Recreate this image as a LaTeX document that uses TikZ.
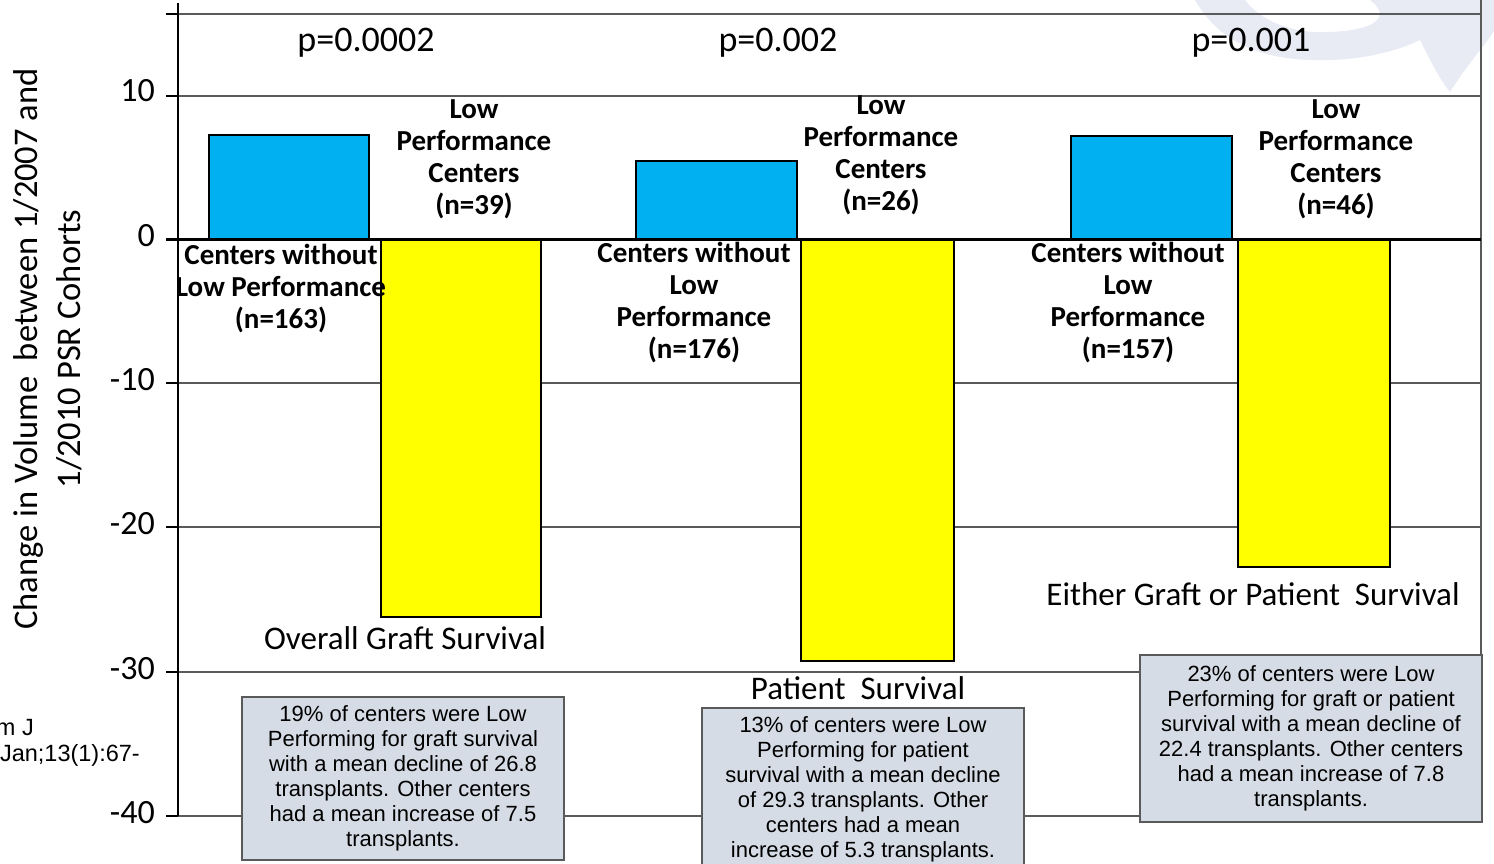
\documentclass[tikz,border=0pt]{standalone}
\usepackage{fontspec}
\setmainfont{Carlito}
\newfontfamily\arialfont{Liberation Sans}
\usetikzlibrary{positioning}
\definecolor{barblue}{RGB}{0,176,240}
\definecolor{baryellow}{RGB}{255,255,0}
\definecolor{notefill}{RGB}{214,220,229}
\definecolor{gridgray}{RGB}{90,90,90}
\definecolor{markgray}{RGB}{232,234,244}
\tikzstyle{bluebar}=[draw=black,line width=2.5pt,fill=barblue]
\tikzstyle{yellowbar}=[draw=black,line width=2.5pt,fill=baryellow]
\tikzstyle{gridline}=[draw=gridgray,line width=1.5pt]
\tikzstyle{ticklabel}=[anchor=east,inner sep=0pt,font=\fontsize{34}{40}\selectfont]
\tikzstyle{pvalue}=[inner sep=0pt,font=\fontsize{36}{40}\selectfont]
\tikzstyle{grouplabel}=[align=center,inner sep=0pt,font=\bfseries\fontsize{29}{32}\selectfont]
\tikzstyle{caption}=[inner sep=0pt,font=\fontsize{33}{38}\selectfont]
\tikzstyle{note}=[draw=gridgray,line width=1.5pt,fill=notefill,align=center,inner sep=0pt,font=\arialfont\fontsize{22}{25}\selectfont]
\tikzstyle{source}=[anchor=east,inner sep=0pt,font=\arialfont\fontsize{23.5}{27}\selectfont]

\begin{document}
\begin{tikzpicture}[x=1pt,y=-1pt]

\useasboundingbox (0,0) rectangle (1494,863);

% watermark
\fill[markgray] (1195,0) .. controls (1215,35) and (1250,58) .. (1310,60) .. controls (1360,62) and (1400,50) .. (1420,40) .. controls (1430,60) and (1440,80) .. (1450,92) .. controls (1470,60) and (1490,40) .. (1494,30) -- (1494,0) -- (1370,0) .. controls (1390,15) and (1380,30) .. (1330,32) .. controls (1290,34) and (1260,20) .. (1245,0) -- cycle;

% grid and frame
\foreach \y in {14,96,383,527,672,816}
    \path[gridline] (172,\y) -- (1481,\y);
\draw[gridline] (1481,0) -- (1481,816);
\draw[black,line width=2pt] (178,3) -- (178,816);
\foreach \y in {14,96,239,383,527,672,816}
    \draw[black,line width=1.5pt] (166,\y) -- (178,\y);

% tick labels
\foreach \y/\name/\val in {91/tA/10, 236/tB/0, 380/tC/-10, 524/tD/-20, 669/tE/-30, 813/tF/-40}
    \node[ticklabel] (\name) at (155,\y) {\val};

% axis title
\node[rotate=90,align=center,inner sep=0pt,font=\fontsize{34.5}{43}\selectfont] (ytitle) at (48,349)
    {Change in Volume~ between 1/2007 and\\1/2010 PSR Cohorts};

% bars
\foreach \xl/\xr/\top in {209/369/135, 636/797/161, 1071/1232/136}
    \draw[bluebar] (\xl,\top) rectangle (\xr,239);
\foreach \xl/\xr/\bot in {381/541/617, 801/954/661, 1238/1390/567}
    \draw[yellowbar] (\xl,239) rectangle (\xr,\bot);
\draw[black,line width=3pt] (166,239) -- (1481,239);

% p values
\foreach \pos/\name/\val in {{(366,43)/pA/0.0002}, {(778,43)/pB/0.002}, {(1251,43)/pC/0.001}}
    \node[pvalue] (\name) at \pos {p=\val};

% group labels
\foreach \pos/\name/\n in {{(474,159)/lowA/39}, {(881,155)/lowB/26}, {(1336,159)/lowC/46}}
    \node[grouplabel] (\name) at \pos {Low\\Performance\\Centers\\(n=\n)};
\node[grouplabel] (otherA) at (281,289) {Centers without\\Low Performance\\(n=163)};
\foreach \pos/\name/\n in {{(694,303)/otherB/176}, {(1128,303)/otherC/157}}
    \node[grouplabel] (\name) at \pos {Centers without\\Low\\Performance\\(n=\n)};

% captions
\node[caption] (capA) at (405,638) {Overall Graft Survival};
\node[caption] (capB) at (858,688) {Patient~ Survival};
\node[caption] (capC) at (1253,594) {Either Graft or Patient~ Survival};

% notes
\node[note,minimum width=322pt,minimum height=163pt] (noteA) at (403,778.5)
    {19\% of centers were Low\\Performing for graft survival\\with a mean decline of 26.8\\transplants. Other centers\\had a mean increase of 7.5\\transplants.};
\node[note,minimum width=322pt,minimum height=163pt] (noteB) at (863,789.5)
    {13\% of centers were Low\\Performing for patient\\survival with a mean decline\\of 29.3 transplants. Other\\centers had a mean\\increase of 5.3 transplants.};
\node[note,minimum width=342pt,minimum height=167pt] (noteC) at (1311,738.5)
    {23\% of centers were Low\\Performing for graft or patient\\survival with a mean decline of\\22.4 transplants. Other centers\\had a mean increase of 7.8\\transplants.};

% cut-off source
\node[source] (srcA) at (34,728) {m J};
\node[source] (srcB) at (140,755) {Jan;13(1):67-};

\end{tikzpicture}
\end{document}
